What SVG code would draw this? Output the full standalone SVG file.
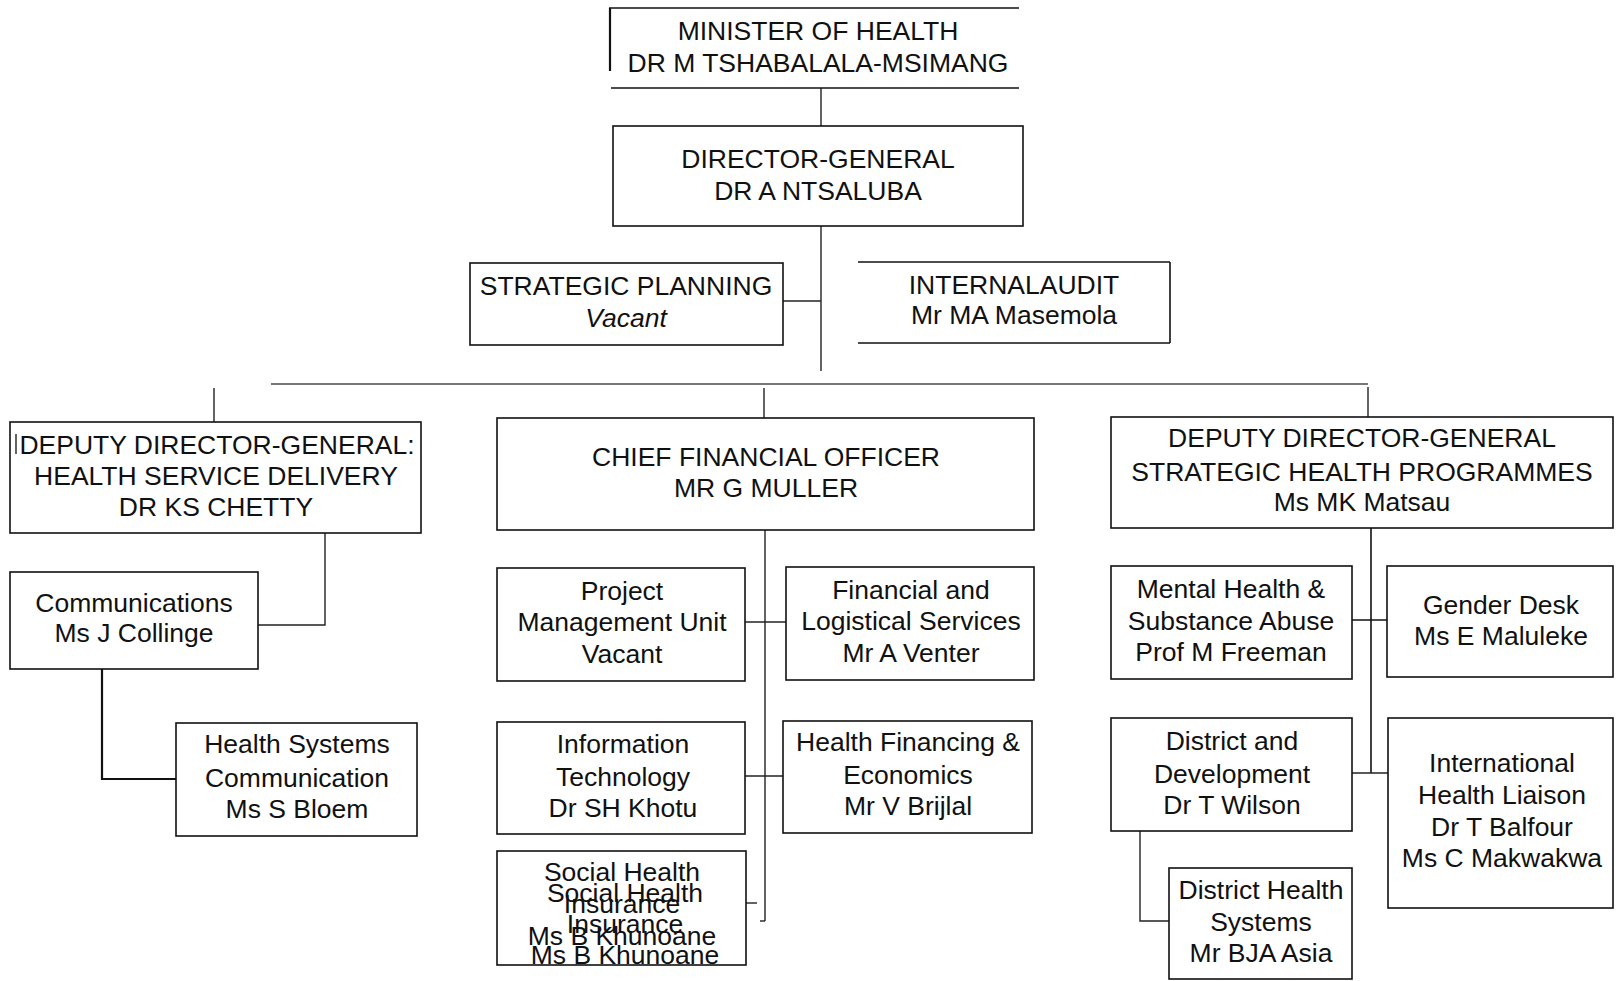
<svg xmlns="http://www.w3.org/2000/svg" width="1622" height="981" viewBox="0 0 1622 981">
<style>
  .bg{fill:#ffffff}
  .box{fill:#ffffff;stroke:#111111;stroke-width:1.6}
  .edge{stroke:#111111;stroke-width:1.6;fill:none}
  .ln{stroke:#222222;stroke-width:1.4;fill:none}
  .thick{stroke:#111111;stroke-width:2.2;fill:none}
  .bus{stroke:#777777;stroke-width:1.8;fill:none}
  text{font-family:"Liberation Sans",Arial,sans-serif;font-size:26.5px;fill:#111111;text-anchor:middle}
  .it{font-style:italic}
</style>
<rect class="bg" x="0" y="0" width="1622" height="981"/>

<g id="connectors">
  <line class="ln" x1="821" y1="88" x2="821" y2="126"/>
  <line class="ln" x1="821" y1="226" x2="821" y2="371"/>
  <line class="ln" x1="783" y1="301" x2="821" y2="301"/>
  <line class="bus" x1="271" y1="384" x2="1368" y2="384"/>
  <line class="ln" x1="214" y1="388" x2="214" y2="422"/>
  <line class="ln" x1="764" y1="388" x2="764" y2="418"/>
  <line class="ln" x1="1368" y1="387" x2="1368" y2="417"/>
  <polyline class="ln" points="325,533 325,625 258,625"/>
  <polyline class="thick" points="102,669 102,779 176,779"/>
  <line class="ln" x1="765" y1="530" x2="765" y2="921"/>
  <line class="ln" x1="760" y1="921" x2="765" y2="921"/>
  <line class="ln" x1="745" y1="622" x2="786" y2="622"/>
  <line class="ln" x1="745" y1="776" x2="783" y2="776"/>
  <line class="ln" x1="746" y1="903" x2="757" y2="903"/>
  <line class="edge" x1="1371" y1="528" x2="1371" y2="773"/>
  <line class="edge" x1="1352" y1="620" x2="1387" y2="620"/>
  <line class="ln" x1="1352" y1="773" x2="1388" y2="773"/>
  <polyline class="ln" points="1140,831 1140,921 1169,921"/>
</g>

<g id="minister">
  <line class="edge" x1="609" y1="8" x2="1019" y2="8"/>
  <line class="thick" x1="610" y1="8" x2="610" y2="71"/>
  <line class="edge" x1="611" y1="88" x2="1019" y2="88"/>
  <text x="818" y="40">MINISTER OF HEALTH</text>
  <text x="818" y="72">DR M TSHABALALA-MSIMANG</text>
</g>

<g id="director-general">
  <rect class="box" x="613" y="126" width="410" height="100"/>
  <text x="818" y="168">DIRECTOR-GENERAL</text>
  <text x="818" y="200">DR A NTSALUBA</text>
</g>

<g id="strategic-planning">
  <rect class="box" x="470" y="263" width="313" height="82"/>
  <text x="626" y="295">STRATEGIC PLANNING</text>
  <text x="626" y="327" class="it">Vacant</text>
</g>

<g id="internal-audit">
  <line class="edge" x1="858" y1="262" x2="1170" y2="262"/>
  <line class="edge" x1="1170" y1="262" x2="1170" y2="343"/>
  <line class="edge" x1="858" y1="343" x2="1170" y2="343"/>
  <text x="1014" y="294">INTERNALAUDIT</text>
  <text x="1014" y="324">Mr MA Masemola</text>
</g>

<g id="ddg-health-service-delivery">
  <rect class="box" x="10" y="422" width="411" height="111"/>
  <line class="ln" x1="16" y1="434" x2="16" y2="454"/>
  <text x="217" y="454">DEPUTY DIRECTOR-GENERAL:</text>
  <text x="216" y="485">HEALTH SERVICE DELIVERY</text>
  <text x="216" y="516">DR KS CHETTY</text>
</g>

<g id="communications">
  <rect class="box" x="10" y="572" width="248" height="97"/>
  <text x="134" y="612">Communications</text>
  <text x="134" y="642">Ms J Collinge</text>
</g>

<g id="health-systems-communication">
  <rect class="box" x="176" y="723" width="241" height="113"/>
  <text x="297" y="753">Health Systems</text>
  <text x="297" y="787">Communication</text>
  <text x="297" y="818">Ms S Bloem</text>
</g>

<g id="cfo">
  <rect class="box" x="497" y="418" width="537" height="112"/>
  <text x="766" y="466">CHIEF FINANCIAL OFFICER</text>
  <text x="766" y="497">MR G MULLER</text>
</g>

<g id="project-management-unit">
  <rect class="box" x="497" y="568" width="248" height="113"/>
  <text x="622" y="600">Project</text>
  <text x="622" y="631">Management Unit</text>
  <text x="622" y="663">Vacant</text>
</g>

<g id="financial-logistical-services">
  <rect class="box" x="786" y="567" width="248" height="113"/>
  <text x="911" y="599">Financial and</text>
  <text x="911" y="630">Logistical Services</text>
  <text x="911" y="662">Mr A Venter</text>
</g>

<g id="information-technology">
  <rect class="box" x="497" y="722" width="248" height="112"/>
  <text x="623" y="753">Information</text>
  <text x="623" y="786">Technology</text>
  <text x="623" y="817">Dr SH Khotu</text>
</g>

<g id="health-financing-economics">
  <rect class="box" x="783" y="721" width="249" height="112"/>
  <text x="908" y="751">Health Financing &amp;</text>
  <text x="908" y="784">Economics</text>
  <text x="908" y="815">Mr V Brijlal</text>
</g>

<g id="social-health-insurance">
  <rect class="box" x="497" y="851" width="249" height="114"/>
  <text x="622" y="881">Social Health</text>
  <text x="622" y="913">Insurance</text>
  <text x="622" y="945">Ms B Khunoane</text>
  <text x="625" y="902">Social Health</text>
  <text x="625" y="933">Insurance</text>
  <text x="625" y="964">Ms B Khunoane</text>
</g>

<g id="ddg-strategic-health-programmes">
  <rect class="box" x="1111" y="417" width="502" height="111"/>
  <text x="1362" y="447">DEPUTY DIRECTOR-GENERAL</text>
  <text x="1362" y="481">STRATEGIC HEALTH PROGRAMMES</text>
  <text x="1362" y="511">Ms MK Matsau</text>
</g>

<g id="mental-health-substance-abuse">
  <rect class="box" x="1111" y="566" width="241" height="113"/>
  <text x="1231" y="598">Mental Health &amp;</text>
  <text x="1231" y="630">Substance Abuse</text>
  <text x="1231" y="661">Prof M Freeman</text>
</g>

<g id="gender-desk">
  <rect class="box" x="1387" y="566" width="226" height="111"/>
  <text x="1501" y="614">Gender Desk</text>
  <text x="1501" y="645">Ms E Maluleke</text>
</g>

<g id="district-development">
  <rect class="box" x="1111" y="718" width="241" height="113"/>
  <text x="1232" y="750">District and</text>
  <text x="1232" y="783">Development</text>
  <text x="1232" y="814">Dr T Wilson</text>
</g>

<g id="international-health-liaison">
  <rect class="box" x="1388" y="718" width="225" height="190"/>
  <text x="1502" y="772">International</text>
  <text x="1502" y="804">Health Liaison</text>
  <text x="1502" y="836">Dr T Balfour</text>
  <text x="1502" y="867">Ms C Makwakwa</text>
</g>

<g id="district-health-systems">
  <rect class="box" x="1169" y="868" width="183" height="111"/>
  <text x="1261" y="899">District Health</text>
  <text x="1261" y="931">Systems</text>
  <text x="1261" y="962">Mr BJA Asia</text>
</g>
</svg>
